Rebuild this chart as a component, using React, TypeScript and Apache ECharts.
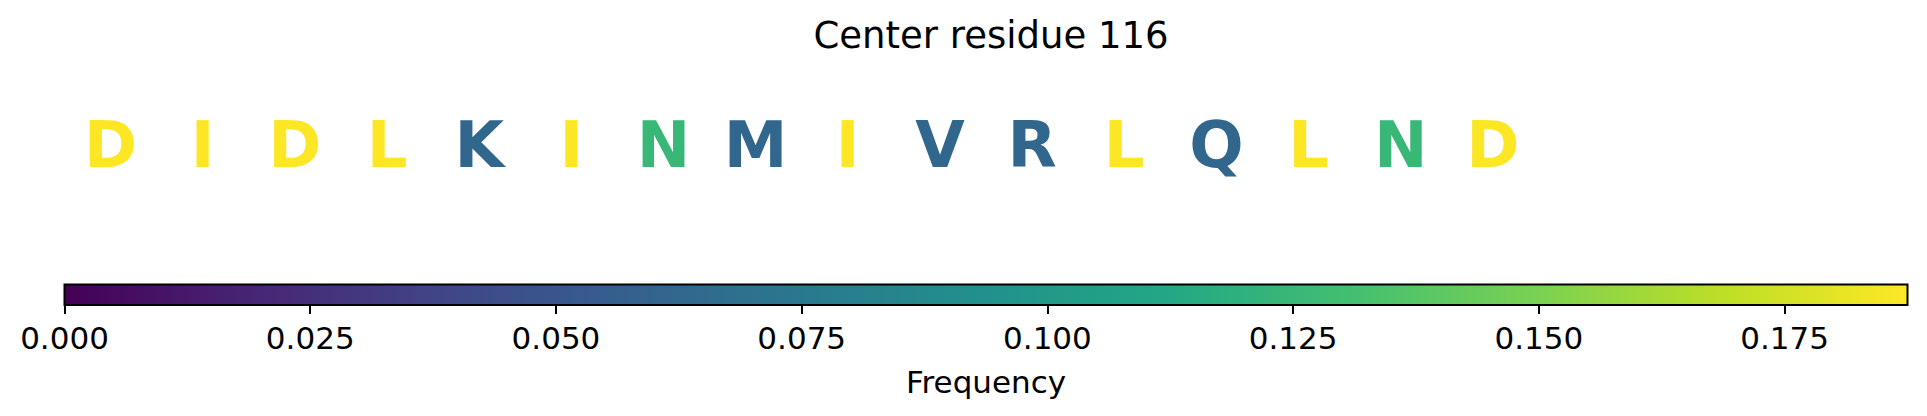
import React, { useEffect, useRef } from "react";
import * as echarts from "echarts";

const TITLE = "Center residue 116";
const RESIDUES = ["D", "I", "D", "L", "K", "I", "N", "M", "I", "V", "R", "L", "Q", "L", "N", "D"];
const FREQUENCIES = [
  0.1875, 0.1875, 0.1875, 0.1875, 0.0625, 0.1875, 0.125, 0.0625,
  0.1875, 0.0625, 0.0625, 0.1875, 0.0625, 0.1875, 0.125, 0.1875,
];
const FREQ_MIN = 0;
const FREQ_MAX = 0.1875;
const COLORBAR_TICKS = [0, 0.025, 0.05, 0.075, 0.1, 0.125, 0.15, 0.175];
const COLORBAR_LABEL = "Frequency";

// viridis colormap stops
const VIRIDIS = [
  "#440154", "#482475", "#414487", "#355f8d", "#2a788e", "#21918c",
  "#22a884", "#44bf70", "#7ad151", "#bddf26", "#fde725",
];

function hexToRgb(h: string) {
  return [parseInt(h.slice(1, 3), 16), parseInt(h.slice(3, 5), 16), parseInt(h.slice(5, 7), 16)];
}
function viridis(t: number) {
  const c = Math.max(0, Math.min(1, t)) * (VIRIDIS.length - 1);
  const i = Math.min(Math.floor(c), VIRIDIS.length - 2);
  const f = c - i;
  const a = hexToRgb(VIRIDIS[i]);
  const b = hexToRgb(VIRIDIS[i + 1]);
  const m = a.map((v, k) => Math.round(v + (b[k] - v) * f));
  return `rgb(${m[0]},${m[1]},${m[2]})`;
}

const FONT = "'DejaVu Sans', sans-serif";

export default function App() {
  const ref = useRef<HTMLDivElement>(null);
  useEffect(() => {
    if (!ref.current) return;
    const chart = echarts.init(ref.current, null, { renderer: "svg" });
    const letterData = RESIDUES.map((r, i) => [i, 0.5, FREQUENCIES[i], r]);
    const option: any = {
      animation: false,
      backgroundColor: "#ffffff",
      title: {
        text: TITLE,
        left: 986,
        top: 12,
        textAlign: "center",
        textStyle: { fontFamily: FONT, fontSize: 37, fontWeight: "normal", color: "#000" },
      },
      grid: [
        { left: 64.5, right: 19.5, top: 40.5, height: 208 },
        { left: 64.5, right: 19.5, top: 284.5, height: 20.5 },
      ],
      xAxis: [
        { gridIndex: 0, type: "value", min: -0.5, max: 19.5, show: false },
        {
          gridIndex: 1,
          type: "value",
          min: FREQ_MIN,
          max: FREQ_MAX,
          interval: 0.025,
          axisLine: { show: false },
          splitLine: { show: false },
          axisTick: {
            show: true,
            length: 9,
            customValues: COLORBAR_TICKS,
            lineStyle: { color: "#000", width: 2 },
          },
          axisLabel: {
            show: true,
            customValues: COLORBAR_TICKS,
            margin: 17,
            fontFamily: FONT,
            fontSize: 31,
            color: "#000",
            formatter: (v: number) => v.toFixed(3),
          },
          name: COLORBAR_LABEL,
          nameLocation: "middle",
          nameGap: 61,
          nameTextStyle: { fontFamily: FONT, fontSize: 31, color: "#000" },
        },
      ],
      yAxis: [
        { gridIndex: 0, type: "value", min: 0, max: 1, show: false },
        { gridIndex: 1, type: "value", min: 0, max: 1, show: false },
      ],
      series: [
        {
          type: "custom",
          xAxisIndex: 0,
          yAxisIndex: 0,
          data: letterData,
          renderItem: (params: any, api: any) => {
            const p = api.coord([api.value(0), api.value(1)]);
            const freq = api.value(2);
            const letter = RESIDUES[params.dataIndex];
            return {
              type: "text",
              x: p[0],
              y: p[1],
              style: {
                text: letter,
                fill: viridis((freq - FREQ_MIN) / (FREQ_MAX - FREQ_MIN)),
                font: `bold 64px ${FONT}`,
                align: "center",
                verticalAlign: "middle",
              },
            };
          },
        },
        {
          type: "custom",
          xAxisIndex: 1,
          yAxisIndex: 1,
          data: [[FREQ_MIN, FREQ_MAX]],
          renderItem: (params: any, api: any) => {
            const a = api.coord([api.value(0), 0]);
            const b = api.coord([api.value(1), 1]);
            const stops = VIRIDIS.map((c, i) => ({ offset: i / (VIRIDIS.length - 1), color: c }));
            return {
              type: "rect",
              shape: { x: a[0], y: b[1], width: b[0] - a[0], height: a[1] - b[1] },
              style: {
                fill: new echarts.graphic.LinearGradient(0, 0, 1, 0, stops),
                stroke: "#000",
                lineWidth: 2,
              },
            };
          },
        },
      ],
    };
    chart.setOption(option);
    return () => chart.dispose();
  }, []);
  return (
    <div
      ref={ref}
      style={{ position: "fixed", left: 0, top: 0, width: 1927, height: 416, background: "#fff" }}
    />
  );
}
